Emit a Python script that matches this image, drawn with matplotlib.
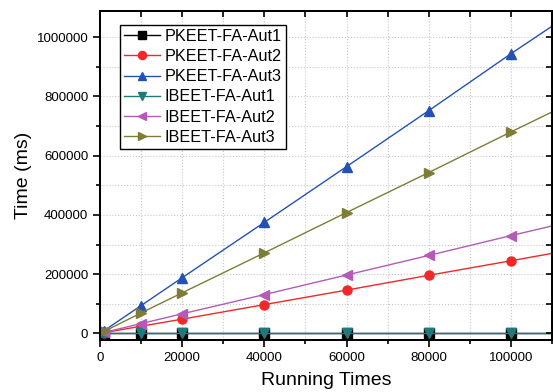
import matplotlib.pyplot as plt
from matplotlib.ticker import MultipleLocator, FormatStrFormatter, NullFormatter

plt.rcParams['font.family'] = ['Liberation Sans', 'DejaVu Sans']

runs = [1000, 10000, 20000, 40000, 60000, 80000, 100000, 120000]

pkeet_aut1 = [300, 300, 300, 300, 300, 300, 300, 300]
pkeet_aut2 = [2500, 24000, 48000, 97000, 146000, 196000, 245000, 295000]
pkeet_aut3 = [9400, 94000, 188000, 375000, 563000, 752000, 944000, 1130000]
ibeet_aut1 = [300, 300, 300, 300, 300, 300, 300, 300]
ibeet_aut2 = [3300, 33000, 66000, 131000, 197000, 263000, 330000, 395000]
ibeet_aut3 = [6800, 69000, 137000, 272000, 408000, 543000, 680000, 815000]

series = [
    ('PKEET-FA-Aut1', pkeet_aut1, 'black', 's'),
    ('PKEET-FA-Aut2', pkeet_aut2, '#f02828', 'o'),
    ('PKEET-FA-Aut3', pkeet_aut3, '#2452b4', '^'),
    ('IBEET-FA-Aut1', ibeet_aut1, '#1f7a7a', 'v'),
    ('IBEET-FA-Aut2', ibeet_aut2, '#b25cb8', '<'),
    ('IBEET-FA-Aut3', ibeet_aut3, '#7d7d38', '>'),
]

fig = plt.figure(figsize=(5.53, 3.92), dpi=100)
ax = fig.add_axes([0.181, 0.133, 0.817, 0.840])

for name, vals, col, mk in series:
    ax.plot(runs, vals, color=col, marker=mk, markersize=6.5, linewidth=1, label=name)

xlim = (0, 110000)
ylim = (-22000, 1090000)
ax.set_xlim(*xlim)
ax.set_ylim(*ylim)
ax.xaxis.set_major_locator(MultipleLocator(20000))
ax.xaxis.set_minor_locator(MultipleLocator(10000))
ax.yaxis.set_major_locator(MultipleLocator(200000))
ax.yaxis.set_minor_locator(MultipleLocator(100000))
ax.xaxis.set_major_formatter(FormatStrFormatter('%d'))
ax.yaxis.set_major_formatter(FormatStrFormatter('%d'))
ax.grid(True, which='both', color='#c8c8c8', linestyle=':', linewidth=0.8)

ax.tick_params(which='both', direction='out', labelsize=9.5, width=1.2)
ax.tick_params(which='major', length=5)
ax.tick_params(which='minor', length=3)
for s in ax.spines.values():
    s.set_linewidth(1.3)

# inward ticks on top and right spines
axr = ax.twinx()
axr.set_ylim(*ylim)
axr.yaxis.set_major_locator(MultipleLocator(100000))
axr.yaxis.set_major_formatter(NullFormatter())
axr.tick_params(direction='in', length=4, width=1.2)
axt = ax.twiny()
axt.set_xlim(*xlim)
axt.xaxis.set_major_locator(MultipleLocator(10000))
axt.xaxis.set_major_formatter(NullFormatter())
axt.tick_params(direction='in', length=4, width=1.2)
for a in (axr, axt):
    for s in a.spines.values():
        s.set_linewidth(1.3)

ax.set_xlabel('Running Times', fontsize=14, labelpad=6)
ax.set_ylabel('Time (ms)', fontsize=14, labelpad=3)

leg = ax.legend(loc='upper left', bbox_to_anchor=(0.044, 0.957), borderaxespad=0,
                fontsize=11.7, fancybox=False, edgecolor='black', framealpha=1,
                handlelength=2.2, labelspacing=0.32, borderpad=0.25,
                handletextpad=0.3, markerscale=0.9)
leg.get_frame().set_linewidth(1.0)
leg.set_zorder(5)

fig.savefig('out.png', dpi=100)
